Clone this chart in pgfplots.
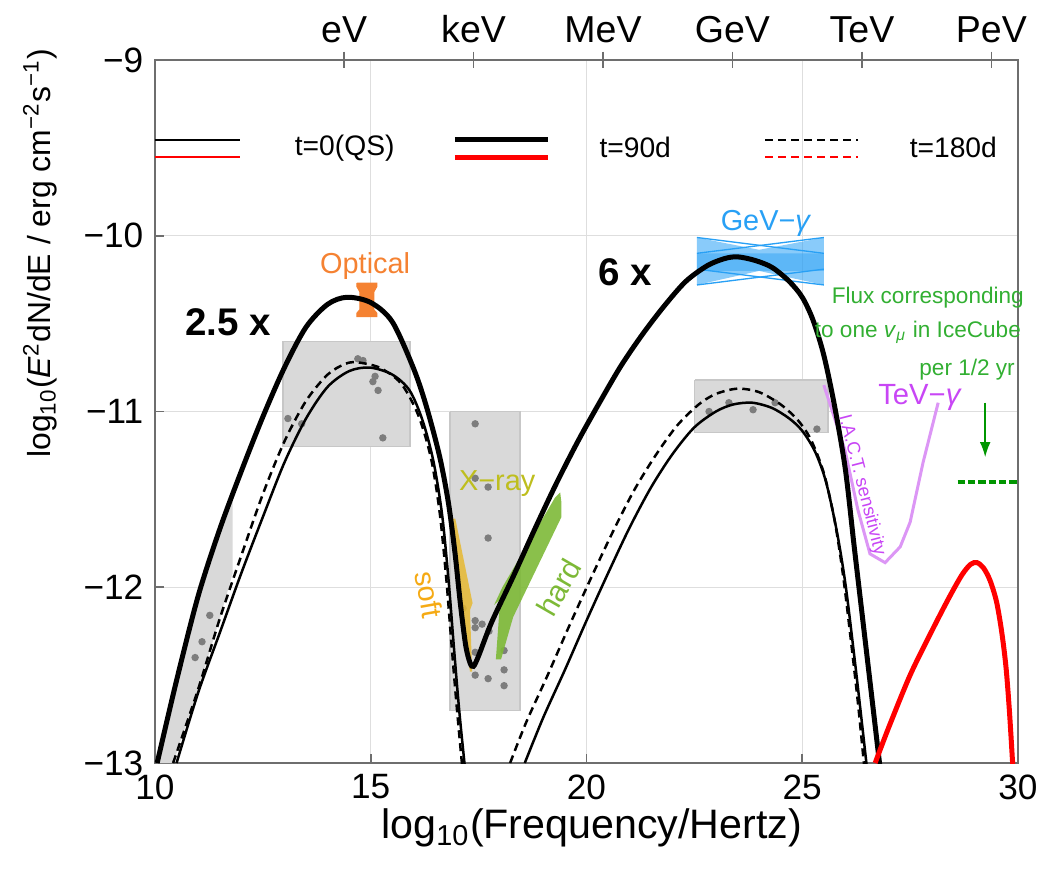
\documentclass[border=0pt]{standalone}
\usepackage{fontspec}
\setmainfont{Liberation Sans}
\usepackage{pgfplots}
\pgfplotsset{compat=1.18}
\usetikzlibrary{arrows.meta}

\definecolor{boxgray}{RGB}{217,217,217}
\definecolor{dotgray}{RGB}{125,125,125}
\definecolor{optorange}{RGB}{245,130,50}
\definecolor{gevblue}{RGB}{40,160,245}
\definecolor{softyel}{RGB}{230,185,50}
\definecolor{softlab}{RGB}{245,170,20}
\definecolor{xraylab}{RGB}{190,190,30}
\definecolor{hardgreen}{RGB}{125,185,55}
\definecolor{tevpurple}{RGB}{200,70,245}
\definecolor{tevline}{RGB}{220,150,245}
\definecolor{nugreen}{RGB}{50,175,50}
\definecolor{nudark}{RGB}{0,150,0}
\definecolor{framegray}{RGB}{110,110,110}

\tikzset{
  thin curve/.style={black, line width=0.75bp},
  thick curve/.style={black, line width=1.5bp},
  dash curve/.style={black, line width=0.75bp, dash pattern=on 2.4bp off 1.5bp},
}

\begin{document}
\begin{tikzpicture}
\useasboundingbox (-46.5bp,-32.7bp) rectangle (268.8bp,228.9bp);

% top energy axis
\begin{axis}[
  scale only axis, width=258.9bp, height=210.9bp,
  xmin=10, xmax=30, ymin=-13, ymax=-9,
  axis x line*=top, axis y line=none,
  xtick={14.383,17.383,20.383,23.383,26.383,29.383},
  xticklabels={eV,keV,MeV,GeV,TeV,PeV},
  tick align=center, major tick length=5bp,
  axis line style={framegray, line width=0.5bp},
  tick style={framegray, line width=0.5bp},
  ticklabel style={font=\fontsize{11.3}{13}\selectfont},
  xticklabel style={yshift=-1bp},
]
\addplot[draw=none] coordinates {(10,-13)};
\end{axis}

\begin{axis}[
  scale only axis, width=258.9bp, height=210.9bp,
  xmin=10, xmax=30, ymin=-13, ymax=-9,
  clip mode=individual,
  xtick={10,15,20,25,30}, xticklabels={10,15,20,25,30},
  ytick={-13,-12,-11,-10,-9}, yticklabels={−13,−12,−11,−10,−9},
  xtick pos=bottom, ytick pos=left,
  tick align=inside, major tick length=2.7bp,
  axis line style={framegray, line width=0.5bp},
  tick style={framegray, line width=0.5bp},
  grid=major, grid style={black!13, line width=0.4bp},
  ticklabel style={font=\fontsize{10.6}{12}\selectfont},
  xlabel={log\textsubscript{10}(Frequency/Hertz)},
  ylabel={log\textsubscript{10}(\textit{E}\textsuperscript{2}dN/dE / erg cm\textsuperscript{−2}s\textsuperscript{−1})},
  every axis x label/.style={at={(rel axis cs:0.506,-0.0925)}, anchor=center,
    font=\fontsize{12.4}{14}\selectfont},
  every axis y label/.style={at={(rel axis cs:-0.133,0.725)}, rotate=90, anchor=center,
    font=\fontsize{9.6}{11}\selectfont},
]

% data range boxes
\addplot[fill=boxgray, draw=none] coordinates {
  (10.05,-13) (10.5,-12.53) (11.0,-12.05) (11.5,-11.67) (11.8,-11.47)
  (11.8,-11.92) (11.5,-12.18) (11.0,-12.58) (10.42,-13) (10.05,-13)};
\addplot[fill=boxgray, draw=black!22, line width=0.4bp] coordinates {
  (12.97,-10.6) (15.91,-10.6) (15.91,-11.2) (12.97,-11.2) (12.97,-10.6)};
\addplot[fill=boxgray, draw=black!22, line width=0.4bp] coordinates {
  (16.84,-11.0) (18.46,-11.0) (18.46,-12.7) (16.84,-12.7) (16.84,-11.0)};
\addplot[fill=boxgray, draw=black!22, line width=0.4bp] coordinates {
  (22.51,-10.82) (25.6,-10.82) (25.6,-11.12) (22.51,-11.12) (22.51,-10.82)};

% archival points
\addplot[only marks, mark=*, mark size=0.9bp, dotgray] coordinates {
  (10.93,-12.4) (11.09,-12.31) (11.27,-12.16)
  (14.7,-10.7) (14.82,-10.71) (15.1,-10.8) (15.05,-10.83) (15.17,-10.88)
  (13.08,-11.04) (13.4,-11.07) (15.28,-11.15)
  (17.42,-11.07) (17.42,-11.38) (17.72,-11.43) (17.72,-11.72) (17.14,-12.12)
  (17.42,-12.19) (17.42,-12.23) (17.58,-12.21) (17.74,-12.25) (18.09,-12.36)
  (17.42,-12.37) (17.42,-12.5) (17.72,-12.52) (18.09,-12.47) (18.09,-12.56)
  (22.84,-11.0) (23.3,-10.95) (23.86,-10.99) (24.37,-10.95) (25.34,-11.1)};

% optical
\addplot[fill=optorange, draw=optorange, line width=0.3bp] coordinates {
  (14.68,-10.27) (15.14,-10.27) (15.14,-10.29) (15.07,-10.32) (15.07,-10.42)
  (15.14,-10.44) (15.14,-10.46) (14.68,-10.46) (14.68,-10.44) (14.75,-10.42)
  (14.75,-10.32) (14.68,-10.29) (14.68,-10.27)};

% GeV bowtie
\addplot[fill=gevblue, fill opacity=0.55, draw=none] coordinates {
  (22.56,-10.01) (24.0,-10.08) (25.5,-10.01) (25.5,-10.28) (24.0,-10.2) (22.56,-10.28) (22.56,-10.01)};
\addplot[fill=gevblue, fill opacity=0.45, draw=none] coordinates {
  (22.56,-10.1) (25.5,-10.1) (25.5,-10.2) (22.56,-10.2) (22.56,-10.1)};
\addplot[gevblue, line width=0.4bp] coordinates {(22.56,-10.01) (25.5,-10.1)};
\addplot[gevblue, line width=0.4bp] coordinates {(22.56,-10.1) (25.5,-10.01)};
\addplot[gevblue, line width=0.4bp] coordinates {(22.56,-10.19) (25.5,-10.28)};
\addplot[gevblue, line width=0.4bp] coordinates {(22.56,-10.28) (25.5,-10.19)};

% soft and hard X-ray
\addplot[fill=softyel, fill opacity=0.85, draw=none] coordinates {
  (16.91,-11.61) (16.96,-11.61) (17.36,-12.09) (17.3,-12.13) (17.35,-12.48)
  (17.3,-12.48) (17.02,-12.07) (16.91,-11.61)};
\addplot[fill=hardgreen, fill opacity=0.9, draw=none] coordinates {
  (17.9,-12.41) (18.0,-12.07) (17.86,-12.1) (18.05,-12.0) (19.27,-11.49) (19.39,-11.46)
  (19.42,-11.52) (19.42,-11.6) (18.3,-12.17) (18.02,-12.41) (17.9,-12.41)};

% IACT sensitivity
\addplot[tevline, line width=0.9bp] coordinates {
  (25.5,-10.85) (25.99,-11.22) (26.29,-11.56) (26.57,-11.81) (26.92,-11.86)
  (27.27,-11.77) (27.5,-11.63) (27.8,-11.29) (28.15,-10.95)};

% model curves
\addplot[thin curve, smooth] coordinates {
  (10.5,-13) (11.0,-12.6) (11.5,-12.26) (12.0,-11.92) (12.5,-11.6) (13.0,-11.29)
  (13.5,-11.04) (14.0,-10.86) (14.5,-10.77) (14.98,-10.75) (15.5,-10.79)
  (15.9,-10.88) (16.2,-11.05) (16.45,-11.28) (16.65,-11.58) (16.8,-11.95)
  (16.93,-12.35) (17.05,-12.7) (17.18,-13.02)};
\addplot[dash curve, smooth] coordinates {
  (10.42,-13) (11.0,-12.58) (11.5,-12.18) (12.0,-11.82) (12.5,-11.47) (13.0,-11.17)
  (13.5,-10.94) (14.0,-10.79) (14.4,-10.73) (14.68,-10.72) (15.2,-10.75)
  (15.7,-10.84) (16.1,-11.02) (16.4,-11.27) (16.6,-11.58) (16.75,-11.95)
  (16.88,-12.35) (17.0,-12.7) (17.12,-13.02)};
\addplot[thin curve, smooth] coordinates {
  (18.57,-13) (19.0,-12.74) (19.5,-12.47) (20.0,-12.19) (20.5,-11.92) (21.0,-11.66)
  (21.5,-11.43) (22.0,-11.24) (22.5,-11.09) (23.0,-11.0) (23.4,-10.96) (23.84,-10.95)
  (24.3,-10.98) (24.7,-11.04) (25.0,-11.11) (25.3,-11.23) (25.55,-11.4) (25.8,-11.68)
  (26.0,-11.98) (26.2,-12.38) (26.35,-12.7) (26.5,-13.03)};
\addplot[dash curve, smooth] coordinates {
  (18.23,-13) (18.6,-12.77) (19.1,-12.5) (19.6,-12.22) (20.1,-11.95) (20.6,-11.69)
  (21.1,-11.45) (21.6,-11.25) (22.1,-11.08) (22.6,-10.96) (23.0,-10.9) (23.5,-10.87)
  (24.0,-10.89) (24.5,-10.96) (24.9,-11.05) (25.2,-11.16) (25.5,-11.35) (25.75,-11.62)
  (25.95,-11.94) (26.15,-12.35) (26.3,-12.68) (26.44,-13.03)};
\addplot[thick curve, smooth] coordinates {
  (10.05,-13) (10.5,-12.53) (11.0,-12.05) (11.5,-11.67) (12.0,-11.34) (12.5,-11.03)
  (13.0,-10.75) (13.5,-10.52) (14.0,-10.39) (14.45,-10.35) (15.0,-10.38) (15.5,-10.49)
  (16.0,-10.76) (16.3,-10.98) (16.6,-11.26) (16.8,-11.52) (16.95,-11.8) (17.08,-12.1)
  (17.2,-12.33) (17.3,-12.43) (17.38,-12.45) (17.5,-12.39) (17.8,-12.2) (18.3,-11.94)
  (18.8,-11.67) (19.3,-11.41) (19.8,-11.17) (20.3,-10.95) (20.8,-10.74) (21.3,-10.56)
  (21.8,-10.4) (22.3,-10.26) (22.8,-10.17) (23.2,-10.13) (23.5,-10.12) (23.9,-10.14)
  (24.3,-10.18) (24.7,-10.26) (25.0,-10.35) (25.25,-10.48) (25.5,-10.68) (25.75,-10.97)
  (26.0,-11.33) (26.2,-11.76) (26.4,-12.18) (26.6,-12.6) (26.8,-13.02)};
\addplot[red, line width=1.5bp, smooth] coordinates {
  (26.69,-13) (27.0,-12.8) (27.5,-12.5) (28.0,-12.25) (28.4,-12.06) (28.7,-11.93)
  (28.9,-11.87) (29.05,-11.86) (29.2,-11.89) (29.35,-11.96) (29.5,-12.08)
  (29.62,-12.25) (29.72,-12.45) (29.8,-12.7) (29.88,-13.02)};

% legend
\addplot[thin curve] coordinates {(10,-9.455) (11.97,-9.455)};
\addplot[red, line width=0.75bp] coordinates {(10,-9.552) (11.97,-9.552)};
\addplot[thick curve] coordinates {(16.95,-9.455) (19.11,-9.455)};
\addplot[red, line width=1.5bp] coordinates {(16.95,-9.552) (19.11,-9.552)};
\addplot[dash curve] coordinates {(24.14,-9.455) (26.29,-9.455)};
\addplot[red, line width=0.75bp, dash pattern=on 2.4bp off 1.5bp] coordinates {(24.14,-9.552) (26.29,-9.552)};
\node[anchor=west, font=\fontsize{8.5}{10}\selectfont] at (axis cs:12.97,-9.5) {t=0(QS)};
\node[anchor=west, font=\fontsize{8.5}{10}\selectfont] at (axis cs:20.03,-9.5) {t=90d};
\node[anchor=west, font=\fontsize{8.5}{10}\selectfont] at (axis cs:27.22,-9.5) {t=180d};

% neutrino flux
\addplot[nudark, line width=1.2bp, dash pattern=on 2.2bp off 0.9bp] coordinates {(28.6,-11.4) (30,-11.4)};
\addplot[nudark, line width=0.5bp, -{Latex[length=4.5bp,width=3.2bp]}] coordinates {(29.24,-10.95) (29.24,-11.26)};

% annotations
\node[optorange, font=\fontsize{8.7}{10}\selectfont] at (axis cs:14.87,-10.17) {Optical};
\node[gevblue, font=\fontsize{8.7}{10}\selectfont] at (axis cs:24.16,-9.93) {GeV−\textit{γ}};
\node[xraylab, font=\fontsize{8.7}{10}\selectfont] at (axis cs:17.93,-11.41) {X−ray};
\node[softlab, rotate=-80, font=\fontsize{8.7}{10}\selectfont] at (axis cs:16.35,-12.04) {soft};
\node[hardgreen, rotate=60, font=\fontsize{9}{10}\selectfont] at (axis cs:19.36,-12.0) {hard};
\node[tevpurple, font=\fontsize{8.8}{10}\selectfont] at (axis cs:27.73,-10.92) {TeV−\textit{γ}};
\node[tevpurple, rotate=-75.5, font=\fontsize{5.5}{6}\selectfont] at (axis cs:26.38,-11.42) {I.A.C.T. sensitivity};
\node[nugreen, font=\fontsize{6.8}{8}\selectfont] at (axis cs:27.91,-10.35) {Flux corresponding};
\node[nugreen, font=\fontsize{6.8}{8}\selectfont] at (axis cs:27.68,-10.55) {to one \textit{v}\textsubscript{\textit{μ}} in IceCube};
\node[nugreen, font=\fontsize{6.8}{8}\selectfont] at (axis cs:28.82,-10.76) {per 1/2 yr};
\node[font=\bfseries\fontsize{11.6}{13}\selectfont] at (axis cs:11.69,-10.49) {2.5 x};
\node[font=\bfseries\fontsize{11.6}{13}\selectfont] at (axis cs:20.89,-10.21) {6 x};
\end{axis}
\end{tikzpicture}
\end{document}
